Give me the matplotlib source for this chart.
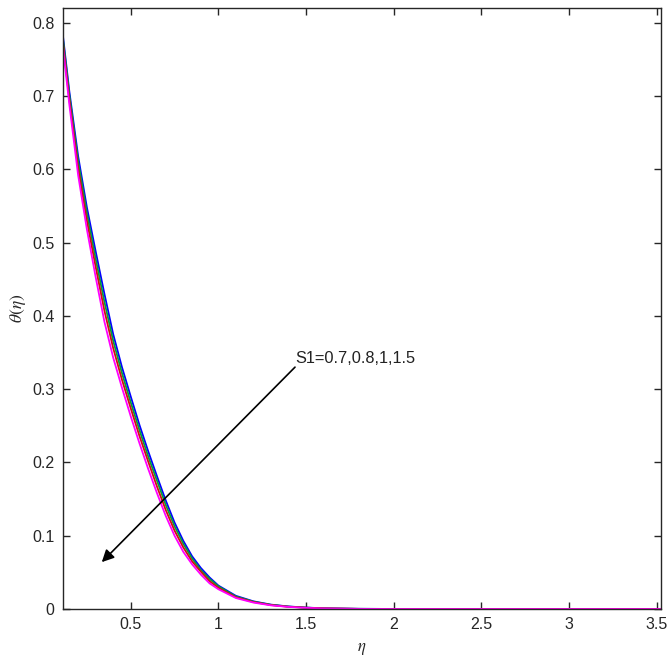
import matplotlib
matplotlib.use('Agg')
import matplotlib.pyplot as plt

plt.rcParams['font.family'] = ['Liberation Sans', 'DejaVu Sans']
plt.rcParams['mathtext.fontset'] = 'stix'

# values
eta = [0.112, 0.15, 0.20, 0.25, 0.30, 0.35, 0.40, 0.45, 0.50, 0.55, 0.60, 0.65,
       0.70, 0.75, 0.80, 0.85, 0.90, 0.95, 1.00, 1.10, 1.20, 1.30, 1.40, 1.50,
       1.60, 1.80, 2.00, 2.50, 3.00, 3.523]
theta_s07 = [0.785, 0.706, 0.618, 0.548, 0.488, 0.430, 0.375, 0.330, 0.290, 0.251,
             0.215, 0.181, 0.148, 0.118, 0.093, 0.072, 0.056, 0.043, 0.032, 0.018,
             0.0105, 0.006, 0.0035, 0.002, 0.001, 0.0003, 0.0001, 0, 0, 0]
theta_s08 = [0.781, 0.701, 0.611, 0.540, 0.478, 0.419, 0.366, 0.322, 0.282, 0.244,
             0.208, 0.175, 0.142, 0.113, 0.089, 0.069, 0.053, 0.041, 0.031, 0.017,
             0.010, 0.0057, 0.0033, 0.0019, 0.0009, 0.0003, 0.0001, 0, 0, 0]
theta_s1 = [0.776, 0.695, 0.602, 0.530, 0.467, 0.407, 0.356, 0.313, 0.274, 0.236,
            0.201, 0.167, 0.135, 0.107, 0.084, 0.065, 0.051, 0.038, 0.029, 0.016,
            0.0095, 0.0054, 0.0031, 0.0018, 0.0009, 0.0002, 0.0001, 0, 0, 0]
theta_s15 = [0.770, 0.688, 0.592, 0.518, 0.453, 0.392, 0.343, 0.302, 0.263, 0.226,
             0.191, 0.158, 0.127, 0.100, 0.078, 0.061, 0.047, 0.035, 0.027, 0.015,
             0.0088, 0.005, 0.0029, 0.0016, 0.0008, 0.0002, 0.00005, 0, 0, 0]

xticks = [0.5, 1, 1.5, 2, 2.5, 3, 3.5]
yticks = [0, 0.1, 0.2, 0.3, 0.4, 0.5, 0.6, 0.7, 0.8]

fig = plt.figure(figsize=(6.69, 6.63), dpi=100)
ax = fig.add_axes([0.0937, 0.0814, 0.894, 0.9066])

ax.plot(eta, theta_s07, color='#0000ff', lw=1.3)
ax.plot(eta, theta_s08, color='#00a03c', lw=1.3)
ax.plot(eta, theta_s1, color='#d01010', lw=1.3)
ax.plot(eta, theta_s15, color='#ff00ff', lw=1.3)

ax.annotate('', xy=(0.335, 0.064), xytext=(1.437, 0.33),
            arrowprops=dict(arrowstyle='-|>', color='black', lw=1.2,
                            mutation_scale=18, shrinkA=0, shrinkB=0))
ax.text(1.437, 0.342, 'S1=0.7,0.8,1,1.5', fontsize=11.8, va='center', ha='left',
        color='#222222')

ax.set_xlim(0.112, 3.523)
ax.set_ylim(0, 0.82)
ax.set_xticks(xticks)
ax.set_xticklabels(['%g' % t for t in xticks])
ax.set_yticks(yticks)
ax.set_yticklabels(['%g' % t for t in yticks])
ax.tick_params(direction='in', length=5, width=1, top=True, right=True,
               labelsize=11.5, colors='#262626', pad=6)
for s in ax.spines.values():
    s.set_color('#262626')
    s.set_linewidth(1)

ax.set_xlabel(r'$\eta$', fontsize=12, color='#262626', labelpad=6)
ax.set_ylabel(r'$\theta(\eta)$', fontsize=12.5, color='#262626', labelpad=3)

fig.savefig('out.png', dpi=100)
